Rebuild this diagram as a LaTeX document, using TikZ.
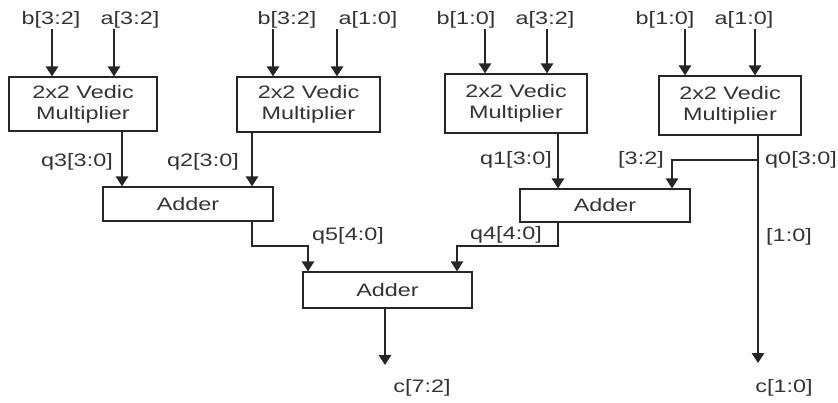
\documentclass[tikz,border=0pt]{standalone}
\usepackage{fontspec}
\setmainfont{Liberation Sans}
\usepackage{graphicx}
\usetikzlibrary{arrows.meta}
\newcommand{\wtxt}[1]{\scalebox{1.3}[1]{#1}}
\tikzset{
 ln/.style={line width=1.4pt, draw=black!85},
 arr/.style={ln, -{Triangle[width=12.5pt,length=10pt]}},
 blk/.style={draw=black!85, line width=1.3pt, fill=white, inner sep=0pt, align=center, font=\fontsize{18}{21}\selectfont, text=black!80},
 lbl/.style={inner sep=0pt, font=\fontsize{18}{21}\selectfont, text=black!80},
}
\begin{document}
\begin{tikzpicture}[x=1pt,y=-1pt]
\useasboundingbox (0,0) rectangle (838,403);
% blocks
\node[blk, minimum width=148pt, minimum height=54pt] (m1) at (83,104) {\wtxt{2x2 Vedic}\\\wtxt{Multiplier}};
\node[blk, minimum width=143pt, minimum height=55pt] (m2) at (308.5,104.5) {\wtxt{2x2 Vedic}\\\wtxt{Multiplier}};
\node[blk, minimum width=142pt, minimum height=59pt] (m3) at (516,103.5) {\wtxt{2x2 Vedic}\\\wtxt{Multiplier}};
\node[blk, minimum width=142pt, minimum height=59pt] (m4) at (730,105.5) {\wtxt{2x2 Vedic}\\\wtxt{Multiplier}};
\node[blk, minimum width=170pt, minimum height=34pt] (a1) at (188,204) {\wtxt{Adder}};
\node[blk, minimum width=170pt, minimum height=33pt] (a2) at (605,205.5) {\wtxt{Adder}};
\node[blk, minimum width=169pt, minimum height=36pt] (a3) at (387.5,290) {\wtxt{Adder}};
% input labels
\node[lbl] (lb1) at (51,20) {\wtxt{b[3:2]}};
\node[lbl] (la1) at (130,20) {\wtxt{a[3:2]}};
\node[lbl] (lb2) at (287,20) {\wtxt{b[3:2]}};
\node[lbl] (la2) at (368,20) {\wtxt{a[1:0]}};
\node[lbl] (lb3) at (466,20) {\wtxt{b[1:0]}};
\node[lbl] (la3) at (545,20) {\wtxt{a[3:2]}};
\node[lbl] (lb4) at (665,20) {\wtxt{b[1:0]}};
\node[lbl] (la4) at (744,20) {\wtxt{a[1:0]}};
% signal labels
\node[lbl] (lq3) at (77,162) {\wtxt{q3[3:0]}};
\node[lbl] (lq2) at (203,162) {\wtxt{q2[3:0]}};
\node[lbl] (lq1) at (516,160) {\wtxt{q1[3:0]}};
\node[lbl] (l32) at (641,160) {\wtxt{[3:2]}};
\node[lbl] (lq0) at (801,160) {\wtxt{q0[3:0]}};
\node[lbl] (lq5) at (348,236) {\wtxt{q5[4:0]}};
\node[lbl] (lq4) at (506,235) {\wtxt{q4[4:0]}};
\node[lbl] (l10) at (789,237) {\wtxt{[1:0]}};
\node[lbl] (lc72) at (422,388) {\wtxt{c[7:2]}};
\node[lbl] (lc10) at (784,388) {\wtxt{c[1:0]}};
% input arrows
\coordinate (i1) at (52,29);
\coordinate (i2) at (114,29);
\coordinate (i3) at (273,29);
\coordinate (i4) at (337,29);
\coordinate (i5) at (485,29);
\coordinate (i6) at (547,29);
\coordinate (i7) at (685,29);
\coordinate (i8) at (755,29);
\draw[arr] (i1) -- (m1.north -| i1);
\draw[arr] (i2) -- (m1.north -| i2);
\draw[arr] (i3) -- (m2.north -| i3);
\draw[arr] (i4) -- (m2.north -| i4);
\draw[arr] (i5) -- (m3.north -| i5);
\draw[arr] (i6) -- (m3.north -| i6);
\draw[arr] (i7) -- (m4.north -| i7);
\draw[arr] (i8) -- (m4.north -| i8);
% multiplier outputs
\coordinate (x1) at (122,0);
\coordinate (x2) at (252,0);
\coordinate (x3) at (558,0);
\coordinate (x4) at (758,0);
\coordinate (x5) at (672,0);
\draw[arr] (m1.south -| x1) -- (a1.north -| x1);
\draw[arr] (m2.south -| x2) -- (a1.north -| x2);
\draw[arr] (m3.south -| x3) -- (a2.north -| x3);
\coordinate (co0) at (758,363);
\draw[arr] (m4.south -| x4) -- (co0);
\coordinate (br) at (758,160);
\draw[arr] (br) -| (a2.north -| x5);
% adder outputs
\coordinate (j5) at (308,246);
\coordinate (j4) at (457,246);
\draw[arr] (a1.south -| x2) |- (j5) -- (a3.north -| j5);
\draw[arr] (a2.south -| x3) |- (j4) -- (a3.north -| j4);
\coordinate (co1) at (385,365);
\draw[arr] (a3.south -| co1) -- (co1);
\end{tikzpicture}
\end{document}
